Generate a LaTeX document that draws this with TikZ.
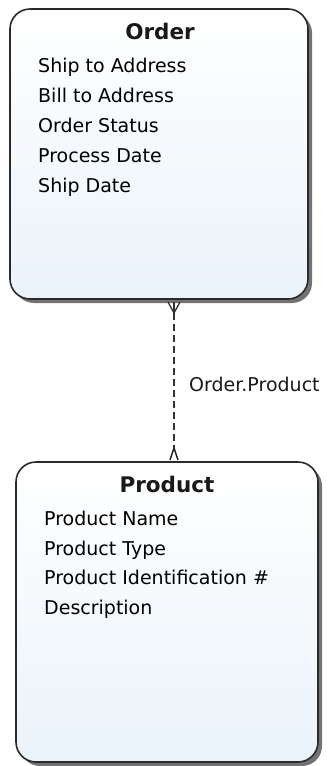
\documentclass[tikz,border=0pt]{standalone}
\usepackage{fontspec}
\setmainfont{DejaVu Sans}
\usetikzlibrary{shadows,arrows.meta}
\definecolor{boxline}{HTML}{2A2A2A}
\definecolor{boxtop}{HTML}{FFFFFF}
\definecolor{boxbot}{HTML}{EAF3FA}
\begin{document}
\begin{tikzpicture}[x=1pt,y=-1pt,
  entity/.style={draw=boxline, line width=1.6pt, rounded corners=20pt,
    top color=boxtop, bottom color=boxbot,
    drop shadow={shadow xshift=4pt, shadow yshift=-4pt, fill=black!55, opacity=1}},
  title/.style={font=\fontsize{21.5}{24}\selectfont\bfseries, text=black!90},
  attr/.style={font=\fontsize{19}{22}\selectfont, anchor=base west, text=black, inner sep=0pt},
  rel/.style={draw=black!80, line width=1.4pt, dash pattern=on 7pt off 4pt},
  lbl/.style={font=\fontsize{19}{22}\selectfont, anchor=base west, text=black!90, inner sep=0pt}]
\useasboundingbox (0,0) rectangle (327,766);
% Order entity
\path[entity] (10,9) rectangle (308,299);
\node[title] (ordert) at (160,31) {Order};
\node[attr] (o1) at (38,72) {Ship to Address};
\node[attr] (o2) at (38,102) {Bill to Address};
\node[attr] (o3) at (38,132) {Order Status};
\node[attr] (o4) at (38,162) {Process Date};
\node[attr] (o5) at (38,192) {Ship Date};
\coordinate (obot) at (174,300);
% Product entity
\path[entity] (16,462) rectangle (318,762);
\node[title] (prodt) at (167,484) {Product};
\node[attr] (p1) at (44,525) {Product Name};
\node[attr] (p2) at (44,555) {Product Type};
\node[attr] (p3) at (44,584) {Product Identification \#};
\node[attr] (p4) at (44,614) {Description};
\coordinate (ptop) at (174,461);
% connector
\coordinate (cf) at (174,313);
\coordinate (ah) at (174,448);
\draw[rel] (cf) -- (ah);
\draw[draw=black!80, line width=1.3pt] (168,302) -- (cf) -- (180,302);
\draw[draw=black!80, line width=1.3pt] (174,302) -- (cf) -- (174,316);
\draw[draw=black!85, line width=1.5pt, line join=miter] (170,460) -- (174,448) -- (178,460);
\node[lbl] (rl) at (189,391) {Order.Product};
\end{tikzpicture}
\end{document}
